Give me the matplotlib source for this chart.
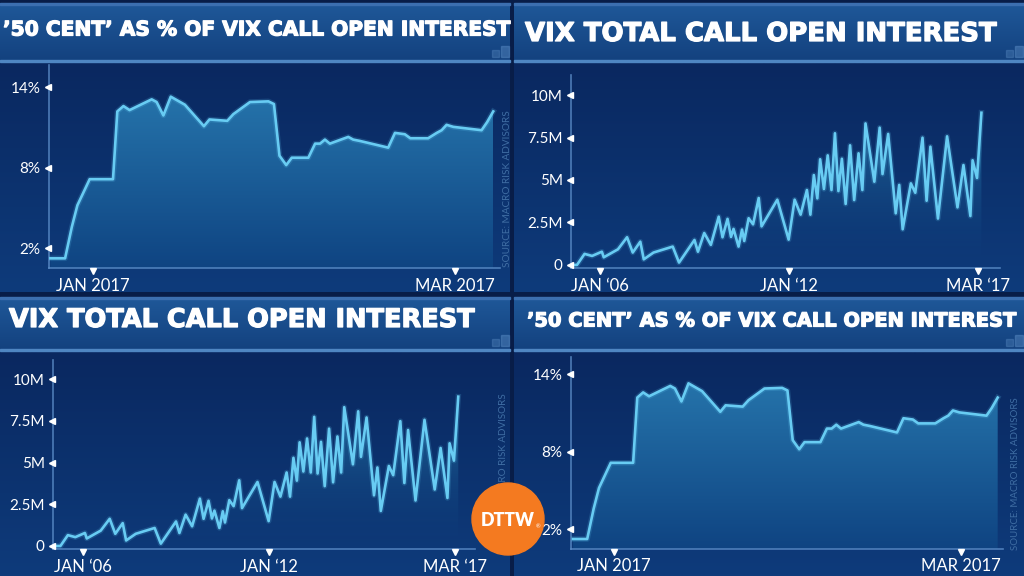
import numpy as np
import matplotlib
matplotlib.use('Agg')
import matplotlib.pyplot as plt
import matplotlib.patheffects as pe
from matplotlib.colors import to_rgb, to_rgba
from matplotlib.patches import Polygon, Circle, Rectangle
from matplotlib.transforms import offset_copy

# ---------------- data ----------------
title_pct = '’50 CENT’ AS % OF VIX CALL OPEN INTEREST'
title_vix = 'VIX TOTAL CALL OPEN INTEREST'
source_text = 'SOURCE: MACRO RISK ADVISORS'

# days relative to 1 Jan 2017
pct_days = [-6.9, -4.5, -3.4, -2.5, -0.5, 3.3, 4.0, 5.0, 6.0, 9.6, 10.4, 11.5, 12.7,
            15.0, 18.1, 19.0, 21.9, 22.9, 25.6, 28.6, 29.5, 30.4, 31.5, 32.4, 35.1,
            36.2, 37.0, 37.8, 38.6, 41.6, 42.4, 43.5, 48.1, 49.2, 50.8, 51.7, 54.6,
            56.0, 56.8, 57.6, 58.7, 63.3, 64.2, 65.2]
pct_values = [1.25, 1.25, 3.6, 5.2, 7.15, 7.15, 12.2, 12.6, 12.3, 13.1, 12.9, 11.9, 13.3,
              12.7, 11.1, 11.6, 11.5, 12.0, 12.9, 12.95, 12.75, 8.9, 8.2, 8.75, 8.75,
              9.8, 9.8, 10.1, 9.8, 10.3, 10.1, 10.0, 9.5, 10.6, 10.5, 10.2, 10.2,
              10.6, 10.8, 11.2, 11.05, 10.8, 11.4, 12.2]
pct_tick_pos = [0, 59]
pct_tick_labels = ['JAN 2017', 'MAR 2017']
pct_yticks = [2, 8, 14]
pct_ylabels = ['2%', '8%', '14%']

# years relative to Jan 2006, values in millions
vix_years = [-0.92, -0.74, -0.50, -0.26, 0.05, 0.11, 0.56, 0.85, 1.03, 1.27, 1.38, 1.69,
             2.30, 2.50, 2.99, 3.10, 3.30, 3.51, 3.76, 3.88, 4.04, 4.15, 4.23, 4.39,
             4.50, 4.57, 4.71, 4.85, 5.03, 5.12, 5.62, 5.98, 6.17, 6.36, 6.56, 6.67,
             6.78, 6.89, 6.98, 7.10, 7.22, 7.34, 7.45, 7.56, 7.67, 7.79, 7.93, 8.06,
             8.20, 8.32, 8.42, 8.70, 8.87, 8.96, 9.14, 9.38, 9.49, 9.60, 9.86, 10.00,
             10.23, 10.36, 10.48, 10.72, 11.01, 11.34, 11.53, 11.75, 11.82, 11.96, 12.10]
vix_values_m = [0.0, 0.0, 0.65, 0.53, 0.78, 0.45, 0.92, 1.63, 0.73, 1.37, 0.33, 0.73,
                1.08, 0.14, 1.47, 0.78, 1.88, 1.18, 2.84, 1.63, 2.71, 1.65, 2.12, 1.08,
                2.08, 1.41, 2.75, 2.39, 3.94, 2.27, 3.84, 1.49, 3.84, 2.96, 4.41, 2.96,
                5.29, 3.92, 6.22, 4.47, 6.45, 4.41, 7.75, 4.35, 6.25, 3.59, 7.04, 3.82,
                6.57, 4.41, 8.33, 4.90, 8.08, 5.35, 7.71, 3.04, 4.71, 2.10, 4.80, 4.25,
                7.49, 3.78, 6.96, 2.73, 7.57, 3.39, 5.88, 2.88, 6.16, 5.12, 8.96]
vix_tick_pos = [0, 6, 12]
vix_tick_labels = ['JAN ‘06', 'JAN ‘12', 'MAR ‘17']
vix_yticks = [0, 2.5, 5, 7.5, 10]
vix_ylabels = ['0', '2.5M', '5M', '7.5M', '10M']

# ---------------- figure ----------------
W, H = 1024, 576
fig = plt.figure(figsize=(10.24, 5.76), dpi=100)
fig.patch.set_facecolor('#081d48')
bg = fig.add_axes([0, 0, 1, 1])
bg.set_xlim(0, W)
bg.set_ylim(H, 0)
bg.axis('off')
renderer = fig.canvas.get_renderer()

FONT = ['Lato', 'DejaVu Sans']
TFONT = ['DejaVu Sans']


def vgrad(x0, x1, y0, y1, c0, c1, z=0):
    t = np.linspace(0, 1, 64)[:, None, None]
    rgb = (1 - t) * np.array(to_rgb(c0)) + t * np.array(to_rgb(c1))
    bg.imshow(rgb, extent=(x0, x1, y1, y0), origin='upper', aspect='auto',
              zorder=z, interpolation='bilinear')


def fit_text(x0, x1, yc, s, size0=20, **kw):
    t = bg.text(x0, yc, s, ha='left', va='center', fontsize=size0, **kw)
    w = t.get_window_extent(renderer).width
    t.set_fontsize(size0 * (x1 - x0) / w)
    t.set_path_effects([pe.withStroke(linewidth=0.9, foreground='white')])
    return t


def source_label(x, ybot, ytop):
    t = bg.text(x, ybot, source_text, rotation=90, ha='center', va='bottom',
                fontsize=8, color='#3f6da3', family=FONT, zorder=3)
    h = t.get_window_extent(renderer).height
    t.set_fontsize(8 * (ybot - ytop) / h)


# panel backgrounds
top_rows = dict(banner=(3, 62), chart=(63, 292))
bot_rows = dict(banner=(297, 351), chart=(352, 576))
cols = [(0, 510), (514, 1024)]
for rows in (top_rows, bot_rows):
    for (cx0, cx1) in cols:
        b0, b1 = rows['banner']
        vgrad(cx0, cx1, b0, b1, '#1f5899', '#13417e', z=1)
        bg.add_patch(Rectangle((cx0, b1 - 2), cx1 - cx0, 2, color='#4f86c2', zorder=2))
        bg.add_patch(Rectangle((cx0, b0), cx1 - cx0, 1.5, color='#3c6fb0', zorder=2))
        c0, c1 = rows['chart']
        vgrad(cx0, cx1, c0, c1, '#0a2860', '#0e3b7b', z=1)
        # small decorative squares at banner end
        bg.add_patch(Rectangle((cx1 - 18, b1 - 12), 7, 7, color='#5a8cc4', alpha=0.35, zorder=2))
        bg.add_patch(Rectangle((cx1 - 9, b1 - 16), 8, 11, color='#5a8cc4', alpha=0.45, zorder=2))

# titles
fit_text(3, 509, 30, title_pct, color='white', weight='bold', family=TFONT, zorder=5)
fit_text(525, 995, 34, title_vix, color='white', weight='bold', family=TFONT, zorder=5)
fit_text(9, 473, 320, title_vix, color='white', weight='bold', family=TFONT, zorder=5)
fit_text(527, 1015, 321, title_pct, color='white', weight='bold', family=TFONT, zorder=5)

# sources
source_label(508, 267, 110)
source_label(504, 548, 393)
source_label(1015, 550, 397)


def px_axes(x0, x1, y0, y1):
    return fig.add_axes([x0 / W, 1 - y1 / H, (x1 - x0) / W, (y1 - y0) / H])


def grad_fill(ax, x, y, ybase, c_top, c_bot, a_top, a_bot):
    t = np.linspace(0, 1, 128)[:, None, None]
    ct = np.array(to_rgba(c_top)); ct[3] = a_top
    cb = np.array(to_rgba(c_bot)); cb[3] = a_bot
    rgba = (1 - t) * cb + t * ct
    im = ax.imshow(rgba, extent=(min(x), max(x), ybase, max(y)), origin='lower',
                   aspect='auto', zorder=2, interpolation='bilinear')
    poly = Polygon([(x[0], ybase)] + list(zip(x, y)) + [(x[-1], ybase)], closed=True,
                   facecolor='none', edgecolor='none')
    ax.add_patch(poly)
    im.set_clip_path(poly)


def style_axes(ax, xlim, ylim, xticks, xlabels, yticks, ylabels, xpad, ypad):
    ax.set_facecolor('none')
    ax.patch.set_alpha(0)
    for s in ('top', 'right'):
        ax.spines[s].set_visible(False)
    for s in ('left', 'bottom'):
        ax.spines[s].set_color('#5d8fca')
        ax.spines[s].set_linewidth(1.2)
        ax.spines[s].set_alpha(0.8)
    ax.set_xticks(xticks)
    ax.set_xticklabels(xlabels)
    ax.set_yticks(yticks)
    ax.set_yticklabels(ylabels)
    ax.tick_params(axis='x', length=0, pad=xpad, labelsize=12, labelcolor='white')
    ax.tick_params(axis='y', length=0, pad=ypad, labelsize=11, labelcolor='white')
    for lab in ax.get_xticklabels() + ax.get_yticklabels():
        lab.set_family(FONT)
    ax.plot([0] * len(yticks), yticks, marker='<', ls='none', ms=4, color='white',
            transform=offset_copy(ax.get_yaxis_transform(), fig, x=-1, units='dots'),
            clip_on=False, zorder=6)
    ax.plot(xticks, [0] * len(xticks), marker='v', ls='none', ms=4.5, color='white',
            transform=offset_copy(ax.get_xaxis_transform(), fig, y=-3, units='dots'),
            clip_on=False, zorder=6)
    ax.set_xlim(*xlim)
    ax.set_ylim(*ylim)


def pct_panel(box, xlim, ylim):
    ax = px_axes(*box)
    grad_fill(ax, pct_days, pct_values, ylim[0], '#2573aa', '#0f4482', 1.0, 1.0)
    ax.plot(pct_days, pct_values, color='#62c9f2', lw=4, alpha=0.18, zorder=3,
            solid_joinstyle='round')
    ax.plot(pct_days, pct_values, color='#68ccf3', lw=1.9, zorder=4,
            solid_joinstyle='round')
    style_axes(ax, xlim, ylim, pct_tick_pos, pct_tick_labels, pct_yticks, pct_ylabels, 7, 6)
    return ax


def vix_panel(box, xlim, ylim):
    ax = px_axes(*box)
    grad_fill(ax, vix_years, vix_values_m, ylim[0], '#2a86b4', '#0e3b7b', 0.75, 0.05)
    ax.plot(vix_years, vix_values_m, color='#62c9f2', lw=4, alpha=0.18, zorder=3,
            solid_joinstyle='round')
    ax.plot(vix_years, vix_values_m, color='#68ccf3', lw=1.9, zorder=4,
            solid_joinstyle='round')
    style_axes(ax, xlim, ylim, vix_tick_pos, vix_tick_labels, vix_yticks, vix_ylabels, 7, 6)
    return ax


pct_panel((49, 500, 65, 268), (-7.12, 66.3), (0.53, 15.66))
pct_panel((571, 1003, 357, 548.7), (-7.25, 66.1), (0.5, 15.34))
vix_panel((571, 1000, 75, 268), (-0.93, 12.69), (-0.18, 11.18))
vix_panel((53, 475, 360, 549.3), (-0.98, 12.64), (-0.2, 11.16))

# DTTW badge
logo = fig.add_axes([0, 0, 1, 1])
logo.set_xlim(0, W)
logo.set_ylim(H, 0)
logo.axis('off')
logo.patch.set_alpha(0)
logo.add_patch(Circle((508, 519), 36, color='#f47a20', zorder=10))
lt = logo.text(481, 521, 'DTTW', ha='left', va='center', color='white', weight='heavy',
               family=FONT, fontsize=14, zorder=11)
w = lt.get_window_extent(renderer).width
lt.set_fontsize(14 * 54 / w)
logo.text(536, 527, '®', ha='left', va='center', color='white', fontsize=4, zorder=11,
          family=FONT)

bg.set_xlim(0, W)
bg.set_ylim(H, 0)
fig.savefig('out.png', dpi=100, facecolor=fig.get_facecolor())
